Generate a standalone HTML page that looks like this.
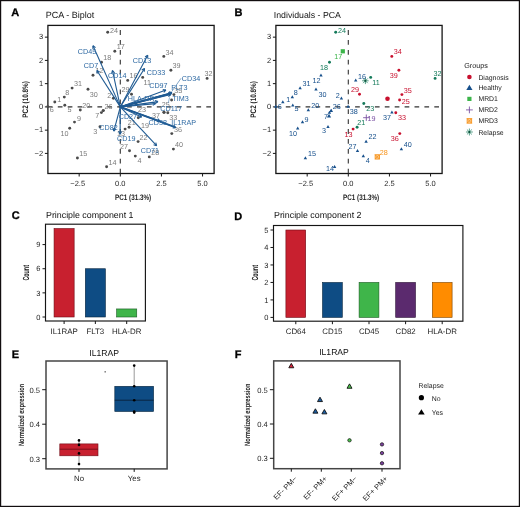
<!DOCTYPE html>
<html><head><meta charset="utf-8"><style>
html,body{margin:0;padding:0;background:#fff;overflow:hidden;}
svg{display:block;will-change:transform;}
text{font-family:"Liberation Sans", sans-serif;text-rendering:geometricPrecision;}
</style></head><body>
<svg width="520" height="507" viewBox="0 0 520 507">
<rect x="0.6" y="0.6" width="518.8" height="505.8" fill="#fff" stroke="#120e0f" stroke-width="1.2"/>
<text x="11.30" y="15.80" font-size="11" fill="#000" text-anchor="start" font-weight="bold" stroke="#000" stroke-width="0.3">A</text>
<text x="234.60" y="16.00" font-size="11" fill="#000" text-anchor="start" font-weight="bold" stroke="#000" stroke-width="0.3">B</text>
<text x="11.70" y="219.00" font-size="11" fill="#000" text-anchor="start" font-weight="bold" stroke="#000" stroke-width="0.3">C</text>
<text x="234.30" y="219.60" font-size="11" fill="#000" text-anchor="start" font-weight="bold" stroke="#000" stroke-width="0.3">D</text>
<text x="11.80" y="358.20" font-size="11" fill="#000" text-anchor="start" font-weight="bold" stroke="#000" stroke-width="0.3">E</text>
<text x="234.70" y="357.70" font-size="11" fill="#000" text-anchor="start" font-weight="bold" stroke="#000" stroke-width="0.3">F</text>
<text x="45.80" y="18.30" font-size="9" fill="#111" text-anchor="start" font-weight="normal" >PCA - Biplot</text>
<rect x="47.90" y="25.40" width="166.20" height="148.10" fill="none" stroke="#151515" stroke-width="1.3"/>
<line x1="47.90" y1="106.90" x2="214.10" y2="106.90" stroke="#333" stroke-width="1.1" stroke-dasharray="4.7 5.2"/>
<line x1="120.30" y1="173.50" x2="120.30" y2="25.40" stroke="#333" stroke-width="1.1" stroke-dasharray="4.8 5.1"/>
<line x1="44.90" y1="37.15" x2="47.90" y2="37.15" stroke="#151515" stroke-width="1"/>
<text x="43.10" y="39.35" font-size="7.5" fill="#262626" text-anchor="end" font-weight="normal" >3</text>
<line x1="44.90" y1="60.40" x2="47.90" y2="60.40" stroke="#151515" stroke-width="1"/>
<text x="43.10" y="62.60" font-size="7.5" fill="#262626" text-anchor="end" font-weight="normal" >2</text>
<line x1="44.90" y1="83.65" x2="47.90" y2="83.65" stroke="#151515" stroke-width="1"/>
<text x="43.10" y="85.85" font-size="7.5" fill="#262626" text-anchor="end" font-weight="normal" >1</text>
<line x1="44.90" y1="106.90" x2="47.90" y2="106.90" stroke="#151515" stroke-width="1"/>
<text x="43.10" y="109.10" font-size="7.5" fill="#262626" text-anchor="end" font-weight="normal" >0</text>
<line x1="44.90" y1="130.15" x2="47.90" y2="130.15" stroke="#151515" stroke-width="1"/>
<text x="43.10" y="132.35" font-size="7.5" fill="#262626" text-anchor="end" font-weight="normal" >−1</text>
<line x1="44.90" y1="153.40" x2="47.90" y2="153.40" stroke="#151515" stroke-width="1"/>
<text x="43.10" y="155.60" font-size="7.5" fill="#262626" text-anchor="end" font-weight="normal" >−2</text>
<line x1="79.17" y1="173.50" x2="79.17" y2="176.50" stroke="#151515" stroke-width="1"/>
<text x="77.67" y="185.60" font-size="7.5" fill="#262626" text-anchor="middle" font-weight="normal" >−2.5</text>
<line x1="120.30" y1="173.50" x2="120.30" y2="176.50" stroke="#151515" stroke-width="1"/>
<text x="120.30" y="185.60" font-size="7.5" fill="#262626" text-anchor="middle" font-weight="normal" >0.0</text>
<line x1="161.43" y1="173.50" x2="161.43" y2="176.50" stroke="#151515" stroke-width="1"/>
<text x="161.43" y="185.60" font-size="7.5" fill="#262626" text-anchor="middle" font-weight="normal" >2.5</text>
<line x1="202.55" y1="173.50" x2="202.55" y2="176.50" stroke="#151515" stroke-width="1"/>
<text x="202.55" y="185.60" font-size="7.5" fill="#262626" text-anchor="middle" font-weight="normal" >5.0</text>
<text x="133.10" y="199.80" font-size="8.0" fill="#1a1a1a" text-anchor="middle" font-weight="bold" textLength="36" lengthAdjust="spacingAndGlyphs">PC1 (31.3%)</text>
<text transform="translate(28.40,99.40) rotate(-90)" font-size="8.0" font-weight="bold" fill="#1a1a1a" text-anchor="middle" textLength="36.5" lengthAdjust="spacingAndGlyphs">PC2 (10.8%)</text>
<text x="273.80" y="18.30" font-size="8.75" fill="#111" text-anchor="start" font-weight="normal" >Individuals - PCA</text>
<rect x="275.90" y="25.40" width="166.20" height="148.10" fill="none" stroke="#151515" stroke-width="1.3"/>
<line x1="275.90" y1="106.90" x2="442.10" y2="106.90" stroke="#333" stroke-width="1.1" stroke-dasharray="4.7 5.2"/>
<line x1="348.30" y1="173.50" x2="348.30" y2="25.40" stroke="#333" stroke-width="1.1" stroke-dasharray="4.8 5.1"/>
<line x1="272.90" y1="37.15" x2="275.90" y2="37.15" stroke="#151515" stroke-width="1"/>
<text x="271.10" y="39.35" font-size="7.5" fill="#262626" text-anchor="end" font-weight="normal" >3</text>
<line x1="272.90" y1="60.40" x2="275.90" y2="60.40" stroke="#151515" stroke-width="1"/>
<text x="271.10" y="62.60" font-size="7.5" fill="#262626" text-anchor="end" font-weight="normal" >2</text>
<line x1="272.90" y1="83.65" x2="275.90" y2="83.65" stroke="#151515" stroke-width="1"/>
<text x="271.10" y="85.85" font-size="7.5" fill="#262626" text-anchor="end" font-weight="normal" >1</text>
<line x1="272.90" y1="106.90" x2="275.90" y2="106.90" stroke="#151515" stroke-width="1"/>
<text x="271.10" y="109.10" font-size="7.5" fill="#262626" text-anchor="end" font-weight="normal" >0</text>
<line x1="272.90" y1="130.15" x2="275.90" y2="130.15" stroke="#151515" stroke-width="1"/>
<text x="271.10" y="132.35" font-size="7.5" fill="#262626" text-anchor="end" font-weight="normal" >−1</text>
<line x1="272.90" y1="153.40" x2="275.90" y2="153.40" stroke="#151515" stroke-width="1"/>
<text x="271.10" y="155.60" font-size="7.5" fill="#262626" text-anchor="end" font-weight="normal" >−2</text>
<line x1="307.18" y1="173.50" x2="307.18" y2="176.50" stroke="#151515" stroke-width="1"/>
<text x="305.68" y="185.60" font-size="7.5" fill="#262626" text-anchor="middle" font-weight="normal" >−2.5</text>
<line x1="348.30" y1="173.50" x2="348.30" y2="176.50" stroke="#151515" stroke-width="1"/>
<text x="348.30" y="185.60" font-size="7.5" fill="#262626" text-anchor="middle" font-weight="normal" >0.0</text>
<line x1="389.43" y1="173.50" x2="389.43" y2="176.50" stroke="#151515" stroke-width="1"/>
<text x="389.43" y="185.60" font-size="7.5" fill="#262626" text-anchor="middle" font-weight="normal" >2.5</text>
<line x1="430.55" y1="173.50" x2="430.55" y2="176.50" stroke="#151515" stroke-width="1"/>
<text x="430.55" y="185.60" font-size="7.5" fill="#262626" text-anchor="middle" font-weight="normal" >5.0</text>
<text x="361.10" y="199.80" font-size="8.0" fill="#1a1a1a" text-anchor="middle" font-weight="bold" textLength="36" lengthAdjust="spacingAndGlyphs">PC1 (31.3%)</text>
<text transform="translate(256.40,99.40) rotate(-90)" font-size="8.0" font-weight="bold" fill="#1a1a1a" text-anchor="middle" textLength="36.5" lengthAdjust="spacingAndGlyphs">PC2 (10.8%)</text>
<circle cx="54.80" cy="102.00" r="1.45" fill="#4a4a4a"/>
<circle cx="113.40" cy="98.30" r="1.45" fill="#4a4a4a"/>
<circle cx="100.00" cy="126.70" r="1.45" fill="#4a4a4a"/>
<circle cx="135.30" cy="156.10" r="1.45" fill="#4a4a4a"/>
<circle cx="64.80" cy="105.30" r="1.45" fill="#4a4a4a"/>
<circle cx="47.80" cy="106.60" r="1.45" fill="#4a4a4a"/>
<circle cx="101.40" cy="112.60" r="1.45" fill="#4a4a4a"/>
<circle cx="64.30" cy="97.10" r="1.45" fill="#4a4a4a"/>
<circle cx="74.50" cy="122.10" r="1.45" fill="#4a4a4a"/>
<circle cx="69.70" cy="128.20" r="1.45" fill="#4a4a4a"/>
<circle cx="142.70" cy="77.40" r="1.45" fill="#4a4a4a"/>
<circle cx="93.00" cy="75.30" r="1.45" fill="#4a4a4a"/>
<circle cx="125.10" cy="129.10" r="1.45" fill="#4a4a4a"/>
<circle cx="106.60" cy="166.70" r="1.45" fill="#4a4a4a"/>
<circle cx="77.40" cy="158.00" r="1.45" fill="#4a4a4a"/>
<circle cx="127.70" cy="80.40" r="1.45" fill="#4a4a4a"/>
<circle cx="114.80" cy="51.30" r="1.45" fill="#4a4a4a"/>
<circle cx="101.50" cy="62.20" r="1.45" fill="#4a4a4a"/>
<circle cx="138.30" cy="117.70" r="1.45" fill="#4a4a4a"/>
<circle cx="80.30" cy="110.00" r="1.45" fill="#4a4a4a"/>
<circle cx="129.10" cy="127.20" r="1.45" fill="#4a4a4a"/>
<circle cx="138.10" cy="141.60" r="1.45" fill="#4a4a4a"/>
<circle cx="135.80" cy="103.50" r="1.45" fill="#4a4a4a"/>
<circle cx="107.70" cy="32.20" r="1.45" fill="#4a4a4a"/>
<circle cx="171.60" cy="100.00" r="1.45" fill="#4a4a4a"/>
<circle cx="103.20" cy="110.60" r="1.45" fill="#4a4a4a"/>
<circle cx="129.50" cy="150.70" r="1.45" fill="#4a4a4a"/>
<circle cx="149.30" cy="156.90" r="1.45" fill="#4a4a4a"/>
<circle cx="131.50" cy="94.20" r="1.45" fill="#4a4a4a"/>
<circle cx="88.00" cy="89.30" r="1.45" fill="#4a4a4a"/>
<circle cx="72.10" cy="88.10" r="1.45" fill="#4a4a4a"/>
<circle cx="207.10" cy="78.40" r="1.45" fill="#4a4a4a"/>
<circle cx="167.80" cy="112.70" r="1.45" fill="#4a4a4a"/>
<circle cx="163.80" cy="56.40" r="1.45" fill="#4a4a4a"/>
<circle cx="173.90" cy="94.60" r="1.45" fill="#4a4a4a"/>
<circle cx="171.80" cy="133.60" r="1.45" fill="#4a4a4a"/>
<circle cx="163.90" cy="112.30" r="1.45" fill="#4a4a4a"/>
<circle cx="120.10" cy="106.60" r="1.45" fill="#4a4a4a"/>
<circle cx="170.90" cy="70.20" r="1.45" fill="#4a4a4a"/>
<circle cx="173.40" cy="149.10" r="1.45" fill="#4a4a4a"/>
<circle cx="164.10" cy="112.40" r="1.45" fill="#4a4a4a"/>
<circle cx="103.30" cy="110.60" r="1.45" fill="#4a4a4a"/>
<text x="59.20" y="102.15" font-size="7.2" fill="#7c7c7c" text-anchor="middle" font-weight="normal" >1</text>
<text x="109.30" y="97.85" font-size="7.2" fill="#7c7c7c" text-anchor="middle" font-weight="normal" >2</text>
<text x="95.20" y="133.75" font-size="7.2" fill="#7c7c7c" text-anchor="middle" font-weight="normal" >3</text>
<text x="139.60" y="162.95" font-size="7.2" fill="#7c7c7c" text-anchor="middle" font-weight="normal" >4</text>
<text x="69.50" y="112.45" font-size="7.2" fill="#7c7c7c" text-anchor="middle" font-weight="normal" >5</text>
<text x="51.70" y="112.45" font-size="7.2" fill="#7c7c7c" text-anchor="middle" font-weight="normal" >6</text>
<text x="97.30" y="118.35" font-size="7.2" fill="#7c7c7c" text-anchor="middle" font-weight="normal" >7</text>
<text x="67.20" y="95.05" font-size="7.2" fill="#7c7c7c" text-anchor="middle" font-weight="normal" >8</text>
<text x="79.10" y="120.95" font-size="7.2" fill="#7c7c7c" text-anchor="middle" font-weight="normal" >9</text>
<text x="64.50" y="135.85" font-size="7.2" fill="#7c7c7c" text-anchor="middle" font-weight="normal" >10</text>
<text x="147.20" y="85.25" font-size="7.2" fill="#7c7c7c" text-anchor="middle" font-weight="normal" >11</text>
<text x="99.50" y="72.85" font-size="7.2" fill="#7c7c7c" text-anchor="middle" font-weight="normal" >12</text>
<text x="120.90" y="136.35" font-size="7.2" fill="#7c7c7c" text-anchor="middle" font-weight="normal" >13</text>
<text x="112.50" y="164.75" font-size="7.2" fill="#7c7c7c" text-anchor="middle" font-weight="normal" >14</text>
<text x="83.20" y="156.25" font-size="7.2" fill="#7c7c7c" text-anchor="middle" font-weight="normal" >15</text>
<text x="133.40" y="78.05" font-size="7.2" fill="#7c7c7c" text-anchor="middle" font-weight="normal" >16</text>
<text x="120.80" y="49.15" font-size="7.2" fill="#7c7c7c" text-anchor="middle" font-weight="normal" >17</text>
<text x="107.30" y="60.05" font-size="7.2" fill="#7c7c7c" text-anchor="middle" font-weight="normal" >18</text>
<text x="144.90" y="127.55" font-size="7.2" fill="#7c7c7c" text-anchor="middle" font-weight="normal" >19</text>
<text x="86.20" y="107.95" font-size="7.2" fill="#7c7c7c" text-anchor="middle" font-weight="normal" >20</text>
<text x="131.70" y="125.15" font-size="7.2" fill="#7c7c7c" text-anchor="middle" font-weight="normal" >21</text>
<text x="143.60" y="139.95" font-size="7.2" fill="#7c7c7c" text-anchor="middle" font-weight="normal" >22</text>
<text x="141.90" y="111.55" font-size="7.2" fill="#7c7c7c" text-anchor="middle" font-weight="normal" >23</text>
<text x="114.00" y="33.35" font-size="7.2" fill="#7c7c7c" text-anchor="middle" font-weight="normal" >24</text>
<text x="165.80" y="107.05" font-size="7.2" fill="#7c7c7c" text-anchor="middle" font-weight="normal" >25</text>
<text x="108.50" y="108.75" font-size="7.2" fill="#7c7c7c" text-anchor="middle" font-weight="normal" >26</text>
<text x="124.00" y="148.75" font-size="7.2" fill="#7c7c7c" text-anchor="middle" font-weight="normal" >27</text>
<text x="155.20" y="154.65" font-size="7.2" fill="#7c7c7c" text-anchor="middle" font-weight="normal" >28</text>
<text x="125.60" y="92.35" font-size="7.2" fill="#7c7c7c" text-anchor="middle" font-weight="normal" >29</text>
<text x="93.80" y="97.35" font-size="7.2" fill="#7c7c7c" text-anchor="middle" font-weight="normal" >30</text>
<text x="77.90" y="86.05" font-size="7.2" fill="#7c7c7c" text-anchor="middle" font-weight="normal" >31</text>
<text x="208.40" y="75.85" font-size="7.2" fill="#7c7c7c" text-anchor="middle" font-weight="normal" >32</text>
<text x="173.30" y="120.05" font-size="7.2" fill="#7c7c7c" text-anchor="middle" font-weight="normal" >33</text>
<text x="169.40" y="54.55" font-size="7.2" fill="#7c7c7c" text-anchor="middle" font-weight="normal" >34</text>
<text x="178.30" y="92.85" font-size="7.2" fill="#7c7c7c" text-anchor="middle" font-weight="normal" >35</text>
<text x="177.90" y="131.55" font-size="7.2" fill="#7c7c7c" text-anchor="middle" font-weight="normal" >36</text>
<text x="156.00" y="117.75" font-size="7.2" fill="#7c7c7c" text-anchor="middle" font-weight="normal" >37</text>
<text x="176.50" y="68.05" font-size="7.2" fill="#7c7c7c" text-anchor="middle" font-weight="normal" >39</text>
<text x="179.10" y="147.05" font-size="7.2" fill="#7c7c7c" text-anchor="middle" font-weight="normal" >40</text>
<line x1="120.30" y1="106.90" x2="93.00" y2="45.70" stroke="#1f5a92" stroke-width="1.1"/>
<line x1="93.00" y1="45.70" x2="95.52" y2="47.67" stroke="#1f5a92" stroke-width="1.1"/>
<line x1="93.00" y1="45.70" x2="92.78" y2="48.89" stroke="#1f5a92" stroke-width="1.1"/>
<line x1="120.30" y1="106.90" x2="96.90" y2="70.50" stroke="#1f5a92" stroke-width="1.1"/>
<line x1="96.90" y1="70.50" x2="99.69" y2="72.06" stroke="#1f5a92" stroke-width="1.1"/>
<line x1="96.90" y1="70.50" x2="97.16" y2="73.69" stroke="#1f5a92" stroke-width="1.1"/>
<line x1="120.30" y1="106.90" x2="112.50" y2="70.50" stroke="#1f5a92" stroke-width="1.1"/>
<line x1="112.50" y1="70.50" x2="114.56" y2="72.95" stroke="#1f5a92" stroke-width="1.1"/>
<line x1="112.50" y1="70.50" x2="111.62" y2="73.58" stroke="#1f5a92" stroke-width="1.1"/>
<line x1="120.30" y1="106.90" x2="147.70" y2="55.20" stroke="#1f5a92" stroke-width="1.1"/>
<line x1="147.70" y1="55.20" x2="147.70" y2="58.40" stroke="#1f5a92" stroke-width="1.1"/>
<line x1="147.70" y1="55.20" x2="145.05" y2="56.99" stroke="#1f5a92" stroke-width="1.1"/>
<line x1="120.30" y1="106.90" x2="144.50" y2="68.50" stroke="#1f5a92" stroke-width="1.1"/>
<line x1="144.50" y1="68.50" x2="144.26" y2="71.69" stroke="#1f5a92" stroke-width="1.1"/>
<line x1="144.50" y1="68.50" x2="141.72" y2="70.09" stroke="#1f5a92" stroke-width="1.1"/>
<line x1="120.30" y1="106.90" x2="165.90" y2="90.10" stroke="#1f5a92" stroke-width="1.1"/>
<line x1="165.90" y1="90.10" x2="163.77" y2="92.49" stroke="#1f5a92" stroke-width="1.1"/>
<line x1="165.90" y1="90.10" x2="162.73" y2="89.67" stroke="#1f5a92" stroke-width="1.1"/>
<line x1="120.30" y1="106.90" x2="172.00" y2="92.60" stroke="#1f5a92" stroke-width="1.1"/>
<line x1="172.00" y1="92.60" x2="169.68" y2="94.80" stroke="#1f5a92" stroke-width="1.1"/>
<line x1="172.00" y1="92.60" x2="168.88" y2="91.91" stroke="#1f5a92" stroke-width="1.1"/>
<line x1="120.30" y1="106.90" x2="171.30" y2="93.30" stroke="#1f5a92" stroke-width="1.1"/>
<line x1="171.30" y1="93.30" x2="168.96" y2="95.48" stroke="#1f5a92" stroke-width="1.1"/>
<line x1="171.30" y1="93.30" x2="168.18" y2="92.58" stroke="#1f5a92" stroke-width="1.1"/>
<line x1="120.30" y1="106.90" x2="170.80" y2="94.50" stroke="#1f5a92" stroke-width="1.1"/>
<line x1="170.80" y1="94.50" x2="168.41" y2="96.63" stroke="#1f5a92" stroke-width="1.1"/>
<line x1="170.80" y1="94.50" x2="167.70" y2="93.71" stroke="#1f5a92" stroke-width="1.1"/>
<line x1="120.30" y1="106.90" x2="158.00" y2="101.60" stroke="#1f5a92" stroke-width="1.1"/>
<line x1="158.00" y1="101.60" x2="155.41" y2="103.48" stroke="#1f5a92" stroke-width="1.1"/>
<line x1="158.00" y1="101.60" x2="154.99" y2="100.51" stroke="#1f5a92" stroke-width="1.1"/>
<line x1="120.30" y1="106.90" x2="155.50" y2="103.60" stroke="#1f5a92" stroke-width="1.1"/>
<line x1="155.50" y1="103.60" x2="152.83" y2="105.36" stroke="#1f5a92" stroke-width="1.1"/>
<line x1="155.50" y1="103.60" x2="152.55" y2="102.37" stroke="#1f5a92" stroke-width="1.1"/>
<line x1="120.30" y1="106.90" x2="160.00" y2="121.00" stroke="#1f5a92" stroke-width="1.1"/>
<line x1="160.00" y1="121.00" x2="156.83" y2="121.47" stroke="#1f5a92" stroke-width="1.1"/>
<line x1="160.00" y1="121.00" x2="157.84" y2="118.64" stroke="#1f5a92" stroke-width="1.1"/>
<line x1="120.30" y1="106.90" x2="175.80" y2="127.60" stroke="#1f5a92" stroke-width="1.1"/>
<line x1="175.80" y1="127.60" x2="172.63" y2="128.02" stroke="#1f5a92" stroke-width="1.1"/>
<line x1="175.80" y1="127.60" x2="173.68" y2="125.21" stroke="#1f5a92" stroke-width="1.1"/>
<line x1="120.30" y1="106.90" x2="156.60" y2="145.70" stroke="#1f5a92" stroke-width="1.1"/>
<line x1="156.60" y1="145.70" x2="153.57" y2="144.66" stroke="#1f5a92" stroke-width="1.1"/>
<line x1="156.60" y1="145.70" x2="155.77" y2="142.61" stroke="#1f5a92" stroke-width="1.1"/>
<line x1="120.30" y1="106.90" x2="120.10" y2="134.20" stroke="#1f5a92" stroke-width="1.1"/>
<line x1="120.10" y1="134.20" x2="118.62" y2="131.36" stroke="#1f5a92" stroke-width="1.1"/>
<line x1="120.10" y1="134.20" x2="121.62" y2="131.39" stroke="#1f5a92" stroke-width="1.1"/>
<line x1="120.30" y1="106.90" x2="113.80" y2="131.20" stroke="#1f5a92" stroke-width="1.1"/>
<line x1="113.80" y1="131.20" x2="113.08" y2="128.08" stroke="#1f5a92" stroke-width="1.1"/>
<line x1="113.80" y1="131.20" x2="115.98" y2="128.86" stroke="#1f5a92" stroke-width="1.1"/>
<line x1="120.30" y1="106.90" x2="141.50" y2="117.10" stroke="#1f5a92" stroke-width="1.1"/>
<line x1="141.50" y1="117.10" x2="138.30" y2="117.23" stroke="#1f5a92" stroke-width="1.1"/>
<line x1="141.50" y1="117.10" x2="139.61" y2="114.52" stroke="#1f5a92" stroke-width="1.1"/>
<line x1="120.30" y1="106.90" x2="171.5" y2="93.4" stroke="#1f5a92" stroke-width="2.0"/>
<line x1="120.30" y1="106.90" x2="175.0" y2="127.2" stroke="#1f5a92" stroke-width="1.8"/>
<line x1="181.0" y1="78.3" x2="171.8" y2="91.5" stroke="#2f6aa3" stroke-width="0.6"/>
<line x1="169.6" y1="97.4" x2="168.2" y2="103.2" stroke="#2f6aa3" stroke-width="0.5"/>
<text x="87.00" y="53.55" font-size="7.2" fill="#2f6aa3" text-anchor="middle" font-weight="normal" >CD45</text>
<text x="91.00" y="67.85" font-size="7.2" fill="#2f6aa3" text-anchor="middle" font-weight="normal" >CD7</text>
<text x="117.20" y="78.25" font-size="7.2" fill="#2f6aa3" text-anchor="middle" font-weight="normal" >CD14</text>
<text x="142.00" y="62.55" font-size="7.2" fill="#2f6aa3" text-anchor="middle" font-weight="normal" >CD13</text>
<text x="156.00" y="75.05" font-size="7.2" fill="#2f6aa3" text-anchor="middle" font-weight="normal" >CD33</text>
<text x="158.40" y="88.05" font-size="7.2" fill="#2f6aa3" text-anchor="middle" font-weight="normal" >CD97</text>
<text x="179.40" y="90.05" font-size="7.2" fill="#2f6aa3" text-anchor="middle" font-weight="normal" >FLT3</text>
<text x="191.00" y="80.55" font-size="7.2" fill="#2f6aa3" text-anchor="middle" font-weight="normal" >CD34</text>
<text x="180.60" y="100.55" font-size="7.2" fill="#2f6aa3" text-anchor="middle" font-weight="normal" >TIM3</text>
<text x="141.20" y="100.55" font-size="7.2" fill="#2f6aa3" text-anchor="middle" font-weight="normal" >HLA-DR</text>
<text x="171.20" y="110.55" font-size="7.2" fill="#2f6aa3" text-anchor="middle" font-weight="normal" >CD117</text>
<text x="157.80" y="124.85" font-size="7.2" fill="#2f6aa3" text-anchor="middle" font-weight="normal" >CD38</text>
<text x="183.60" y="124.85" font-size="7.2" fill="#2f6aa3" text-anchor="middle" font-weight="normal" >IL1RAP</text>
<text x="149.90" y="153.25" font-size="7.2" fill="#2f6aa3" text-anchor="middle" font-weight="normal" >CD71</text>
<text x="126.20" y="141.35" font-size="7.2" fill="#2f6aa3" text-anchor="middle" font-weight="normal" >CD19</text>
<text x="108.50" y="129.65" font-size="7.2" fill="#2f6aa3" text-anchor="middle" font-weight="normal" >CD82</text>
<text x="127.90" y="119.15" font-size="7.2" fill="#2f6aa3" text-anchor="middle" font-weight="normal" >CD27</text>
<polygon points="282.80,100.20 281.10,103.20 284.50,103.20" fill="#17508c"/>
<polygon points="341.40,96.50 339.70,99.50 343.10,99.50" fill="#17508c"/>
<polygon points="328.00,124.90 326.30,127.90 329.70,127.90" fill="#17508c"/>
<polygon points="363.30,154.30 361.60,157.30 365.00,157.30" fill="#17508c"/>
<polygon points="292.80,103.50 291.10,106.50 294.50,106.50" fill="#17508c"/>
<polygon points="275.80,104.80 274.10,107.80 277.50,107.80" fill="#17508c"/>
<polygon points="329.40,110.80 327.70,113.80 331.10,113.80" fill="#17508c"/>
<polygon points="292.30,95.30 290.60,98.30 294.00,98.30" fill="#17508c"/>
<polygon points="302.50,120.30 300.80,123.30 304.20,123.30" fill="#17508c"/>
<polygon points="297.70,126.40 296.00,129.40 299.40,129.40" fill="#17508c"/>
<circle cx="370.70" cy="77.40" r="1.45" fill="#147a5a"/>
<polygon points="321.00,73.50 319.30,76.50 322.70,76.50" fill="#17508c"/>
<circle cx="353.10" cy="129.10" r="1.45" fill="#c8102e"/>
<polygon points="334.60,164.90 332.90,167.90 336.30,167.90" fill="#17508c"/>
<polygon points="305.40,156.20 303.70,159.20 307.10,159.20" fill="#17508c"/>
<polygon points="355.70,78.60 354.00,81.60 357.40,81.60" fill="#17508c"/>
<rect x="340.70" y="49.20" width="4.20" height="4.20" fill="#3cb54a"/>
<circle cx="329.50" cy="62.20" r="1.45" fill="#147a5a"/>
<path d="M363.10,117.70H369.50M366.30,114.50V120.90" stroke="#7b52a3" stroke-width="0.9" fill="none"/>
<polygon points="308.30,108.20 306.60,111.20 310.00,111.20" fill="#17508c"/>
<circle cx="357.10" cy="127.20" r="1.45" fill="#147a5a"/>
<polygon points="366.10,139.80 364.40,142.80 367.80,142.80" fill="#17508c"/>
<circle cx="363.80" cy="103.50" r="1.45" fill="#147a5a"/>
<circle cx="335.70" cy="32.20" r="1.45" fill="#147a5a"/>
<circle cx="399.60" cy="100.00" r="1.45" fill="#c8102e"/>
<polygon points="331.20,108.80 329.50,111.80 332.90,111.80" fill="#17508c"/>
<polygon points="357.50,148.90 355.80,151.90 359.20,151.90" fill="#17508c"/>
<rect x="375.15" y="154.75" width="4.30" height="4.30" fill="#fccf98" stroke="#f7941d" stroke-width="0.9"/>
<path d="M375.15,154.75L379.45,159.05M379.45,154.75L375.15,159.05" stroke="#f7941d" stroke-width="0.9"/>
<circle cx="359.50" cy="94.20" r="1.45" fill="#c8102e"/>
<polygon points="316.00,87.50 314.30,90.50 317.70,90.50" fill="#17508c"/>
<polygon points="300.10,86.30 298.40,89.30 301.80,89.30" fill="#17508c"/>
<circle cx="435.10" cy="78.40" r="1.45" fill="#147a5a"/>
<circle cx="395.80" cy="112.70" r="1.45" fill="#c8102e"/>
<circle cx="391.80" cy="56.40" r="1.45" fill="#c8102e"/>
<circle cx="401.90" cy="94.60" r="1.45" fill="#c8102e"/>
<circle cx="399.80" cy="133.60" r="1.45" fill="#c8102e"/>
<polygon points="391.90,110.50 390.20,113.50 393.60,113.50" fill="#17508c"/>
<polygon points="348.10,104.80 346.40,107.80 349.80,107.80" fill="#17508c"/>
<circle cx="398.90" cy="70.20" r="1.45" fill="#c8102e"/>
<polygon points="401.40,147.30 399.70,150.30 403.10,150.30" fill="#17508c"/>
<polygon points="329.00,113.75 326.88,117.50 331.12,117.50" fill="#17508c"/>
<polygon points="331.10,109.00 329.40,112.00 332.80,112.00" fill="#17508c"/>
<circle cx="387.5" cy="98.7" r="2.3" fill="#c8102e"/>
<path d="M362.10,80.80L368.70,80.80M363.07,78.47L367.73,83.13M365.40,77.50L365.40,84.10M367.73,78.47L363.07,83.13" stroke="#147a5a" stroke-width="0.7" fill="none"/>
<circle cx="365.40" cy="80.80" r="1.0" fill="#0b4f3a"/>
<text x="288.30" y="102.15" font-size="7.2" fill="#17508c" text-anchor="middle" font-weight="normal" >1</text>
<text x="337.80" y="98.05" font-size="7.2" fill="#17508c" text-anchor="middle" font-weight="normal" >2</text>
<text x="324.10" y="132.55" font-size="7.2" fill="#17508c" text-anchor="middle" font-weight="normal" >3</text>
<text x="367.70" y="162.55" font-size="7.2" fill="#17508c" text-anchor="middle" font-weight="normal" >4</text>
<text x="296.60" y="110.95" font-size="7.2" fill="#17508c" text-anchor="middle" font-weight="normal" >5</text>
<text x="279.80" y="109.35" font-size="7.2" fill="#17508c" text-anchor="middle" font-weight="normal" >6</text>
<text x="326.00" y="118.55" font-size="7.2" fill="#17508c" text-anchor="middle" font-weight="normal" >7</text>
<text x="295.70" y="94.65" font-size="7.2" fill="#17508c" text-anchor="middle" font-weight="normal" >8</text>
<text x="306.40" y="121.55" font-size="7.2" fill="#17508c" text-anchor="middle" font-weight="normal" >9</text>
<text x="293.10" y="135.75" font-size="7.2" fill="#17508c" text-anchor="middle" font-weight="normal" >10</text>
<text x="376.00" y="85.25" font-size="7.2" fill="#147a5a" text-anchor="middle" font-weight="normal" >11</text>
<text x="316.50" y="82.95" font-size="7.2" fill="#17508c" text-anchor="middle" font-weight="normal" >12</text>
<text x="348.60" y="136.65" font-size="7.2" fill="#c8102e" text-anchor="middle" font-weight="normal" >13</text>
<text x="330.00" y="170.85" font-size="7.2" fill="#17508c" text-anchor="middle" font-weight="normal" >14</text>
<text x="312.10" y="156.15" font-size="7.2" fill="#17508c" text-anchor="middle" font-weight="normal" >15</text>
<text x="361.90" y="78.55" font-size="7.2" fill="#17508c" text-anchor="middle" font-weight="normal" >16</text>
<text x="338.30" y="58.65" font-size="7.2" fill="#3cb54a" text-anchor="middle" font-weight="normal" >17</text>
<text x="324.10" y="69.85" font-size="7.2" fill="#147a5a" text-anchor="middle" font-weight="normal" >18</text>
<text x="371.50" y="120.65" font-size="7.2" fill="#7b52a3" text-anchor="middle" font-weight="normal" >19</text>
<text x="315.30" y="108.35" font-size="7.2" fill="#17508c" text-anchor="middle" font-weight="normal" >20</text>
<text x="361.20" y="124.85" font-size="7.2" fill="#147a5a" text-anchor="middle" font-weight="normal" >21</text>
<text x="372.50" y="139.45" font-size="7.2" fill="#17508c" text-anchor="middle" font-weight="normal" >22</text>
<text x="370.20" y="111.25" font-size="7.2" fill="#147a5a" text-anchor="middle" font-weight="normal" >23</text>
<text x="341.90" y="33.25" font-size="7.2" fill="#147a5a" text-anchor="middle" font-weight="normal" >24</text>
<text x="405.80" y="104.45" font-size="7.2" fill="#c8102e" text-anchor="middle" font-weight="normal" >25</text>
<text x="336.80" y="108.75" font-size="7.2" fill="#17508c" text-anchor="middle" font-weight="normal" >26</text>
<text x="352.50" y="149.05" font-size="7.2" fill="#17508c" text-anchor="middle" font-weight="normal" >27</text>
<text x="383.70" y="154.65" font-size="7.2" fill="#f7941d" text-anchor="middle" font-weight="normal" >28</text>
<text x="354.90" y="92.35" font-size="7.2" fill="#c8102e" text-anchor="middle" font-weight="normal" >29</text>
<text x="322.40" y="97.15" font-size="7.2" fill="#17508c" text-anchor="middle" font-weight="normal" >30</text>
<text x="306.40" y="86.15" font-size="7.2" fill="#17508c" text-anchor="middle" font-weight="normal" >31</text>
<text x="437.50" y="76.05" font-size="7.2" fill="#147a5a" text-anchor="middle" font-weight="normal" >32</text>
<text x="401.90" y="120.25" font-size="7.2" fill="#c8102e" text-anchor="middle" font-weight="normal" >33</text>
<text x="397.70" y="54.45" font-size="7.2" fill="#c8102e" text-anchor="middle" font-weight="normal" >34</text>
<text x="407.70" y="92.55" font-size="7.2" fill="#c8102e" text-anchor="middle" font-weight="normal" >35</text>
<text x="394.80" y="141.35" font-size="7.2" fill="#c8102e" text-anchor="middle" font-weight="normal" >36</text>
<text x="386.90" y="119.65" font-size="7.2" fill="#17508c" text-anchor="middle" font-weight="normal" >37</text>
<text x="353.80" y="114.35" font-size="7.2" fill="#17508c" text-anchor="middle" font-weight="normal" >38</text>
<text x="393.80" y="77.55" font-size="7.2" fill="#c8102e" text-anchor="middle" font-weight="normal" >39</text>
<text x="407.70" y="147.15" font-size="7.2" fill="#17508c" text-anchor="middle" font-weight="normal" >40</text>
<text x="464.20" y="67.90" font-size="7.2" fill="#222" text-anchor="start" font-weight="normal" >Groups</text>
<circle cx="469.4" cy="77.00" r="2.3" fill="#c8102e"/>
<text x="478.40" y="79.50" font-size="6.9" fill="#222" text-anchor="start" font-weight="normal" >Diagnosis</text>
<polygon points="469.4,84.80 466.3,90.00 472.5,90.00" fill="#17508c"/>
<text x="478.40" y="90.30" font-size="6.9" fill="#222" text-anchor="start" font-weight="normal" >Healthy</text>
<rect x="467.3" y="96.80" width="4.2" height="4.2" fill="#3cb54a"/>
<text x="478.40" y="101.40" font-size="6.9" fill="#222" text-anchor="start" font-weight="normal" >MRD1</text>
<path d="M466,109.90H472.8M469.4,106.50V113.30" stroke="#7b52a3" stroke-width="0.9" fill="none"/>
<text x="478.40" y="112.40" font-size="6.9" fill="#222" text-anchor="start" font-weight="normal" >MRD2</text>
<rect x="467.14" y="118.64" width="4.51" height="4.51" fill="#fccf98" stroke="#f7941d" stroke-width="0.9"/>
<path d="M467.14,118.64L471.66,123.16M471.66,118.64L467.14,123.16" stroke="#f7941d" stroke-width="0.9"/>
<text x="478.40" y="123.40" font-size="6.9" fill="#222" text-anchor="start" font-weight="normal" >MRD3</text>
<path d="M465.94,132.00L472.86,132.00M466.95,129.55L471.85,134.45M469.40,128.53L469.40,135.47M471.85,129.55L466.95,134.45" stroke="#147a5a" stroke-width="0.7" fill="none"/>
<circle cx="469.40" cy="132.00" r="1.0" fill="#0b4f3a"/>
<text x="478.40" y="134.50" font-size="6.9" fill="#222" text-anchor="start" font-weight="normal" >Relapse</text>
<text x="46.00" y="218.20" font-size="8.85" fill="#111" text-anchor="start" font-weight="normal" >Principle component 1</text>
<rect x="54.05" y="228.50" width="20.10" height="88.50" fill="#c8202f" stroke="#6e0c16" stroke-width="0.6"/>
<line x1="64.10" y1="321.00" x2="64.10" y2="324.00" stroke="#151515" stroke-width="1"/>
<text x="64.10" y="333.90" font-size="7.9" fill="#1e1e1e" text-anchor="middle" font-weight="normal" >IL1RAP</text>
<rect x="85.30" y="268.73" width="20.10" height="48.27" fill="#0e4c84" stroke="#08263f" stroke-width="0.6"/>
<line x1="95.35" y1="321.00" x2="95.35" y2="324.00" stroke="#151515" stroke-width="1"/>
<text x="95.35" y="333.90" font-size="7.9" fill="#1e1e1e" text-anchor="middle" font-weight="normal" >FLT3</text>
<rect x="116.65" y="308.95" width="20.10" height="8.05" fill="#3fb54a" stroke="#1a5a22" stroke-width="0.6"/>
<line x1="126.70" y1="321.00" x2="126.70" y2="324.00" stroke="#151515" stroke-width="1"/>
<text x="126.70" y="333.90" font-size="7.9" fill="#1e1e1e" text-anchor="middle" font-weight="normal" >HLA-DR</text>
<rect x="45.50" y="224.20" width="99.90" height="96.80" fill="none" stroke="#151515" stroke-width="1.15"/>
<line x1="42.50" y1="317.00" x2="45.50" y2="317.00" stroke="#151515" stroke-width="1"/>
<text x="40.50" y="319.70" font-size="7.5" fill="#262626" text-anchor="end" font-weight="normal" >0</text>
<line x1="42.50" y1="292.87" x2="45.50" y2="292.87" stroke="#151515" stroke-width="1"/>
<text x="40.50" y="295.56" font-size="7.5" fill="#262626" text-anchor="end" font-weight="normal" >3</text>
<line x1="42.50" y1="268.73" x2="45.50" y2="268.73" stroke="#151515" stroke-width="1"/>
<text x="40.50" y="271.43" font-size="7.5" fill="#262626" text-anchor="end" font-weight="normal" >6</text>
<line x1="42.50" y1="244.59" x2="45.50" y2="244.59" stroke="#151515" stroke-width="1"/>
<text x="40.50" y="247.29" font-size="7.5" fill="#262626" text-anchor="end" font-weight="normal" >9</text>
<text transform="translate(28.50,272.80) rotate(-90)" font-size="8.8" font-weight="bold" fill="#1a1a1a" text-anchor="middle" textLength="15.4" lengthAdjust="spacingAndGlyphs">Count</text>
<text x="274.00" y="218.20" font-size="8.85" fill="#111" text-anchor="start" font-weight="normal" >Principle component 2</text>
<rect x="285.90" y="230.00" width="19.80" height="87.40" fill="#c8202f" stroke="#6e0c16" stroke-width="0.6"/>
<line x1="295.80" y1="321.20" x2="295.80" y2="324.20" stroke="#151515" stroke-width="1"/>
<text x="295.80" y="333.90" font-size="7.9" fill="#1e1e1e" text-anchor="middle" font-weight="normal" >CD64</text>
<rect x="322.50" y="282.44" width="19.80" height="34.96" fill="#0e4c84" stroke="#08263f" stroke-width="0.6"/>
<line x1="332.40" y1="321.20" x2="332.40" y2="324.20" stroke="#151515" stroke-width="1"/>
<text x="332.40" y="333.90" font-size="7.9" fill="#1e1e1e" text-anchor="middle" font-weight="normal" >CD15</text>
<rect x="359.10" y="282.44" width="19.80" height="34.96" fill="#3fb54a" stroke="#1a5a22" stroke-width="0.6"/>
<line x1="369.00" y1="321.20" x2="369.00" y2="324.20" stroke="#151515" stroke-width="1"/>
<text x="369.00" y="333.90" font-size="7.9" fill="#1e1e1e" text-anchor="middle" font-weight="normal" >CD45</text>
<rect x="395.70" y="282.44" width="19.80" height="34.96" fill="#5b2a6e" stroke="#2c1236" stroke-width="0.6"/>
<line x1="405.60" y1="321.20" x2="405.60" y2="324.20" stroke="#151515" stroke-width="1"/>
<text x="405.60" y="333.90" font-size="7.9" fill="#1e1e1e" text-anchor="middle" font-weight="normal" >CD82</text>
<rect x="432.30" y="282.44" width="19.80" height="34.96" fill="#ff8c00" stroke="#7a4300" stroke-width="0.6"/>
<line x1="442.20" y1="321.20" x2="442.20" y2="324.20" stroke="#151515" stroke-width="1"/>
<text x="442.20" y="333.90" font-size="7.9" fill="#1e1e1e" text-anchor="middle" font-weight="normal" >HLA-DR</text>
<rect x="273.50" y="225.50" width="189.40" height="95.70" fill="none" stroke="#151515" stroke-width="1.15"/>
<line x1="270.50" y1="317.40" x2="273.50" y2="317.40" stroke="#151515" stroke-width="1"/>
<text x="268.50" y="320.10" font-size="7.5" fill="#262626" text-anchor="end" font-weight="normal" >0</text>
<line x1="270.50" y1="299.92" x2="273.50" y2="299.92" stroke="#151515" stroke-width="1"/>
<text x="268.50" y="302.62" font-size="7.5" fill="#262626" text-anchor="end" font-weight="normal" >1</text>
<line x1="270.50" y1="282.44" x2="273.50" y2="282.44" stroke="#151515" stroke-width="1"/>
<text x="268.50" y="285.14" font-size="7.5" fill="#262626" text-anchor="end" font-weight="normal" >2</text>
<line x1="270.50" y1="264.96" x2="273.50" y2="264.96" stroke="#151515" stroke-width="1"/>
<text x="268.50" y="267.66" font-size="7.5" fill="#262626" text-anchor="end" font-weight="normal" >3</text>
<line x1="270.50" y1="247.48" x2="273.50" y2="247.48" stroke="#151515" stroke-width="1"/>
<text x="268.50" y="250.18" font-size="7.5" fill="#262626" text-anchor="end" font-weight="normal" >4</text>
<line x1="270.50" y1="230.00" x2="273.50" y2="230.00" stroke="#151515" stroke-width="1"/>
<text x="268.50" y="232.70" font-size="7.5" fill="#262626" text-anchor="end" font-weight="normal" >5</text>
<text transform="translate(257.60,272.80) rotate(-90)" font-size="8.8" font-weight="bold" fill="#1a1a1a" text-anchor="middle" textLength="15.4" lengthAdjust="spacingAndGlyphs">Count</text>
<text x="104.10" y="355.50" font-size="8.6" fill="#111" text-anchor="middle" font-weight="normal" >IL1RAP</text>
<rect x="46.00" y="361.00" width="121.10" height="107.90" fill="none" stroke="#454545" stroke-width="1.5"/>
<line x1="42.20" y1="458.70" x2="46.00" y2="458.70" stroke="#151515" stroke-width="1"/>
<text x="40.10" y="461.80" font-size="7.6" fill="#262626" text-anchor="end" font-weight="normal" >0.3</text>
<line x1="42.20" y1="424.20" x2="46.00" y2="424.20" stroke="#151515" stroke-width="1"/>
<text x="40.10" y="427.30" font-size="7.6" fill="#262626" text-anchor="end" font-weight="normal" >0.4</text>
<line x1="42.20" y1="389.70" x2="46.00" y2="389.70" stroke="#151515" stroke-width="1"/>
<text x="40.10" y="392.80" font-size="7.6" fill="#262626" text-anchor="end" font-weight="normal" >0.5</text>
<line x1="79.00" y1="468.90" x2="79.00" y2="471.90" stroke="#151515" stroke-width="1"/>
<text x="79.00" y="481.40" font-size="7.8" fill="#1e1e1e" text-anchor="middle" font-weight="normal" >No</text>
<line x1="134.20" y1="468.90" x2="134.20" y2="471.90" stroke="#151515" stroke-width="1"/>
<text x="134.20" y="481.40" font-size="7.8" fill="#1e1e1e" text-anchor="middle" font-weight="normal" >Yes</text>
<text transform="translate(23.60,414.90) rotate(-90)" font-size="7.7" font-weight="bold" fill="#1a1a1a" text-anchor="middle" textLength="62.3" lengthAdjust="spacingAndGlyphs">Normalized expression</text>
<line x1="79.0" y1="440.4" x2="79.0" y2="464.1" stroke="#555" stroke-width="0.6"/>
<rect x="59.8" y="443.9" width="38.2" height="11.9" fill="#c8202f" stroke="#6e0c16" stroke-width="0.6"/>
<line x1="59.8" y1="449.2" x2="98.0" y2="449.2" stroke="#7a0f1c" stroke-width="1.0"/>
<circle cx="79.0" cy="440.40" r="1.3" fill="#000"/>
<circle cx="79.0" cy="444.90" r="1.3" fill="#000"/>
<circle cx="79.0" cy="453.40" r="1.3" fill="#000"/>
<circle cx="79.0" cy="464.10" r="1.3" fill="#000"/>
<line x1="134.2" y1="365.6" x2="134.2" y2="412.1" stroke="#555" stroke-width="0.6"/>
<rect x="114.8" y="386.3" width="38.8" height="25.2" fill="#0e4c84" stroke="#08263f" stroke-width="0.6"/>
<line x1="114.8" y1="400.2" x2="153.6" y2="400.2" stroke="#0a2540" stroke-width="1.0"/>
<circle cx="134.2" cy="365.60" r="1.3" fill="#000"/>
<circle cx="134.2" cy="386.30" r="1.3" fill="#000"/>
<circle cx="134.2" cy="400.20" r="1.3" fill="#000"/>
<circle cx="134.2" cy="411.60" r="1.3" fill="#000"/>
<circle cx="134.2" cy="412.60" r="1.3" fill="#000"/>
<rect x="104.6" y="371.3" width="1.1" height="1.1" fill="#111"/>
<text x="334.00" y="354.50" font-size="8.6" fill="#111" text-anchor="middle" font-weight="normal" >IL1RAP</text>
<rect x="273.70" y="360.90" width="126.30" height="107.80" fill="none" stroke="#454545" stroke-width="1.5"/>
<line x1="269.90" y1="458.30" x2="273.70" y2="458.30" stroke="#151515" stroke-width="1"/>
<text x="267.80" y="461.40" font-size="7.6" fill="#262626" text-anchor="end" font-weight="normal" >0.3</text>
<line x1="269.90" y1="424.00" x2="273.70" y2="424.00" stroke="#151515" stroke-width="1"/>
<text x="267.80" y="427.10" font-size="7.6" fill="#262626" text-anchor="end" font-weight="normal" >0.4</text>
<line x1="269.90" y1="389.70" x2="273.70" y2="389.70" stroke="#151515" stroke-width="1"/>
<text x="267.80" y="392.80" font-size="7.6" fill="#262626" text-anchor="end" font-weight="normal" >0.5</text>
<line x1="291.30" y1="468.70" x2="291.30" y2="471.70" stroke="#151515" stroke-width="1"/>
<text transform="translate(297.50,479.10) rotate(-45)" font-size="7.5" fill="#1e1e1e" text-anchor="end">EF- PM−</text>
<line x1="321.30" y1="468.70" x2="321.30" y2="471.70" stroke="#151515" stroke-width="1"/>
<text transform="translate(327.50,479.10) rotate(-45)" font-size="7.5" fill="#1e1e1e" text-anchor="end">EF- PM+</text>
<line x1="351.30" y1="468.70" x2="351.30" y2="471.70" stroke="#151515" stroke-width="1"/>
<text transform="translate(357.50,479.10) rotate(-45)" font-size="7.5" fill="#1e1e1e" text-anchor="end">EF+ PM−</text>
<line x1="382.00" y1="468.70" x2="382.00" y2="471.70" stroke="#151515" stroke-width="1"/>
<text transform="translate(388.20,479.10) rotate(-45)" font-size="7.5" fill="#1e1e1e" text-anchor="end">EF+ PM+</text>
<text transform="translate(250.20,414.80) rotate(-90)" font-size="7.7" font-weight="bold" fill="#1a1a1a" text-anchor="middle" textLength="62.3" lengthAdjust="spacingAndGlyphs">Normalized expression</text>
<polygon points="291.30,363.37 288.80,367.77 293.80,367.77" fill="#d7263d" stroke="#0a0a0a" stroke-width="0.85" stroke-linejoin="round"/>
<polygon points="320.00,397.17 317.50,401.57 322.50,401.57" fill="#1b5fa5" stroke="#0a0a0a" stroke-width="0.85" stroke-linejoin="round"/>
<polygon points="315.40,408.77 312.90,413.17 317.90,413.17" fill="#1b5fa5" stroke="#0a0a0a" stroke-width="0.85" stroke-linejoin="round"/>
<polygon points="324.40,409.47 321.90,413.87 326.90,413.87" fill="#1b5fa5" stroke="#0a0a0a" stroke-width="0.85" stroke-linejoin="round"/>
<polygon points="349.50,383.87 347.00,388.27 352.00,388.27" fill="#4cc24c" stroke="#0a0a0a" stroke-width="0.85" stroke-linejoin="round"/>
<circle cx="349.50" cy="440.30" r="1.7" fill="#4cc24c" stroke="#111" stroke-width="0.7"/>
<circle cx="382.00" cy="444.40" r="1.7" fill="#7b3f9e" stroke="#111" stroke-width="0.7"/>
<circle cx="382.00" cy="453.10" r="1.7" fill="#7b3f9e" stroke="#111" stroke-width="0.7"/>
<circle cx="382.00" cy="463.30" r="1.7" fill="#7b3f9e" stroke="#111" stroke-width="0.7"/>
<text x="418.50" y="388.00" font-size="6.9" fill="#222" text-anchor="start" font-weight="normal" >Relapse</text>
<circle cx="421.4" cy="397.7" r="2.6" fill="#000"/>
<text x="431.70" y="400.80" font-size="6.9" fill="#222" text-anchor="start" font-weight="normal" >No</text>
<polygon points="421.4,409.2 418.1,414.6 424.7,414.6" fill="#000"/>
<text x="431.70" y="414.90" font-size="6.9" fill="#222" text-anchor="start" font-weight="normal" >Yes</text>
</svg>
</body></html>
